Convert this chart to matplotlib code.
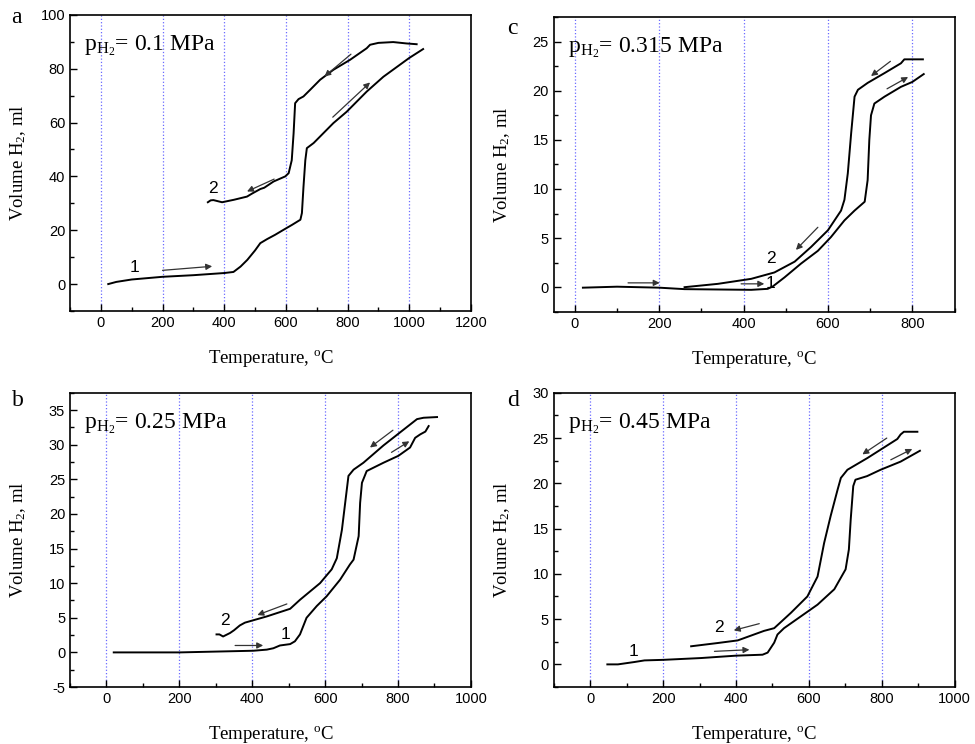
import matplotlib
matplotlib.use('Agg')
import matplotlib.pyplot as plt
from matplotlib.ticker import MultipleLocator

plt.rcParams['font.family'] = ['Liberation Sans', 'DejaVu Sans']
plt.rcParams['mathtext.fontset'] = 'custom'
plt.rcParams['mathtext.rm'] = 'Liberation Serif'
plt.rcParams['mathtext.it'] = 'Liberation Serif:italic'
plt.rcParams['axes.unicode_minus'] = False

# panel a, p = 0.1 MPa
a_heat_t = [24, 50, 100, 200, 300, 400, 430, 453, 475, 500, 517, 539, 565, 593, 620, 647, 652, 657, 663, 668, 690, 754, 797, 862, 916, 1000, 1045]
a_heat_v = [0, 0.8, 1.7, 2.7, 3.3, 4.1, 4.5, 6.5, 9.0, 12.5, 15.2, 16.7, 18.3, 20.2, 22.0, 23.9, 26.4, 36, 46, 50.5, 52.4, 59.8, 64, 71.5, 77, 84, 87.3]
a_cool_t = [1024, 990, 948, 900, 873, 862, 808, 754, 711, 679, 657, 641, 630, 625, 619, 609, 598, 560, 530, 517, 490, 474, 431, 393, 365, 356, 347]
a_cool_v = [89.1, 89.4, 89.9, 89.6, 88.9, 87.6, 83.3, 79.6, 75.9, 72.2, 69.7, 68.7, 67.2, 56, 46, 41.2, 40, 38.1, 35.8, 35.3, 33.6, 32.5, 31.3, 30.4, 31.2, 31.1, 30.4]

# panel b, p = 0.25 MPa
b_heat_t = [20, 201, 403, 440, 458, 476, 504, 517, 531, 549, 577, 604, 641, 668, 678, 692, 696, 701, 714, 760, 801, 833, 847, 861, 875, 884]
b_heat_v = [0, 0.0, 0.24, 0.4, 0.6, 1.0, 1.2, 1.6, 2.6, 5.0, 6.7, 8.1, 10.5, 12.7, 13.4, 16.8, 21.6, 24.5, 26.2, 27.4, 28.4, 29.6, 31.0, 31.5, 31.9, 32.7]
b_cool_t = [907, 870, 852, 806, 760, 705, 678, 664, 655, 646, 632, 618, 586, 531, 504, 440, 380, 366, 350, 339, 320, 310, 302]
b_cool_v = [34.0, 33.9, 33.7, 31.8, 29.9, 27.4, 26.4, 25.5, 21.6, 17.7, 13.6, 12.0, 10.0, 7.6, 6.3, 5.2, 4.3, 3.9, 3.2, 2.8, 2.3, 2.6, 2.6]

# panel c, p = 0.315 MPa
c_heat_t = [19, 100, 200, 260, 418, 457, 469, 497, 536, 576, 607, 639, 663, 687, 694, 698, 702, 710, 734, 773, 800, 827]
c_heat_v = [-0.05, 0.05, -0.05, -0.2, -0.27, -0.17, 0.07, 1.0, 2.4, 3.7, 5.1, 6.8, 7.8, 8.7, 10.9, 15, 17.5, 18.7, 19.4, 20.4, 20.9, 21.7]
c_cool_t = [825, 781, 773, 734, 694, 671, 663, 655, 647, 639, 631, 600, 560, 521, 473, 418, 339, 260]
c_cool_v = [23.2, 23.2, 22.8, 21.8, 20.8, 20.1, 19.4, 15.7, 11.6, 8.9, 7.8, 5.8, 4.1, 2.6, 1.5, 0.85, 0.34, 0.0]

# panel d, p = 0.45 MPa
d_heat_t = [47, 76, 121, 149, 200, 304, 399, 473, 487, 505, 514, 532, 578, 624, 670, 701, 710, 715, 722, 728, 760, 797, 852, 905]
d_heat_v = [0, 0, 0.26, 0.44, 0.5, 0.7, 0.96, 1.07, 1.3, 2.4, 3.3, 4.0, 5.3, 6.6, 8.3, 10.5, 12.7, 16, 19.7, 20.4, 20.8, 21.5, 22.4, 23.6]
d_cool_t = [898, 861, 852, 843, 761, 706, 688, 679, 660, 642, 624, 596, 551, 505, 477, 405, 350, 277]
d_cool_v = [25.7, 25.7, 25.4, 24.9, 22.8, 21.5, 20.6, 19.3, 16.4, 13.4, 9.7, 7.5, 5.7, 4.0, 3.7, 2.65, 2.36, 2.0]

# arrows: (t_from, v_from, t_to, v_to)
a_arrows = [(200, 5.1, 361, 6.6), (752, 62, 873, 74.9), (811, 85.4, 725, 77.1), (562, 39, 474, 34.4)]
b_arrows = [(353, 1.0, 430, 1.0), (782, 28.9, 831, 30.5), (786, 32.1, 723, 29.6), (495, 7.0, 414, 5.4)]
c_arrows = [(126, 0.44, 201, 0.44), (394, 0.34, 449, 0.34), (576, 6.1, 524, 3.8), (748, 23, 702, 21.5), (740, 20.2, 790, 21.4)]
d_arrows = [(341, 1.44, 437, 1.62), (825, 22.6, 884, 23.8), (814, 25.0, 747, 23.2), (464, 4.5, 394, 3.76)]

# curve number labels: (t, v, text)
a_nums = [(108, 6, '1'), (364, 35.4, '2')]
b_nums = [(490, 2.6, '1'), (325, 4.6, '2')]
c_nums = [(463, 0.4, '1'), (465, 2.9, '2')]
d_nums = [(119, 1.4, '1'), (354, 4.1, '2')]

fig = plt.figure(figsize=(9.75, 7.44), dpi=100)

panels = [
    ('a', [0.0718, 0.582, 0.4112, 0.398], (0.017, 0.976), a_heat_t, a_heat_v, a_cool_t, a_cool_v, a_arrows, a_nums,
     '0.1', (-100, 1200), (-10, 100), 20, 10, range(0, 1001, 200)),
    ('c', [0.568, 0.581, 0.411, 0.396], (0.525, 0.962), c_heat_t, c_heat_v, c_cool_t, c_cool_v, c_arrows, c_nums,
     '0.315', (-50, 900), (-2.5, 27.5), 5, 2.5, range(0, 801, 200)),
    ('b', [0.0718, 0.0766, 0.4112, 0.3954], (0.018, 0.462), b_heat_t, b_heat_v, b_cool_t, b_cool_v, b_arrows, b_nums,
     '0.25', (-100, 1000), (-5, 37.5), 5, 2.5, range(0, 801, 200)),
    ('d', [0.568, 0.0766, 0.411, 0.3954], (0.526, 0.462), d_heat_t, d_heat_v, d_cool_t, d_cool_v, d_arrows, d_nums,
     '0.45', (-100, 1000), (-2.5, 30), 5, 2.5, range(0, 801, 200)),
]

for (letter, rect, lpos, ht, hv, ct, cv, arrows, nums, press, xl, yl, ymaj, ymin, grid_x) in panels:
    ax = fig.add_axes(rect)
    for gx in grid_x:
        ax.axvline(gx, color='#6a6aff', ls=':', lw=0.9, zorder=0)
    ax.plot(ht, hv, color='black', lw=1.4)
    ax.plot(ct, cv, color='black', lw=1.4)
    for (x0, y0, x1, y1) in arrows:
        ax.annotate('', xy=(x1, y1), xytext=(x0, y0),
                    arrowprops=dict(arrowstyle='-|>', color='#333333', lw=0.9, mutation_scale=9,
                                    shrinkA=0, shrinkB=0))
    for (x, y, s) in nums:
        ax.text(x, y, s, fontsize=12.5, ha='center', va='center')
    ax.set_xlim(*xl)
    ax.set_ylim(*yl)
    ax.xaxis.set_major_locator(MultipleLocator(200))
    ax.xaxis.set_minor_locator(MultipleLocator(100))
    ax.yaxis.set_major_locator(MultipleLocator(ymaj))
    ax.yaxis.set_minor_locator(MultipleLocator(ymin))
    ax.tick_params(which='both', direction='in', top=False, right=False, labelsize=10.5)
    ax.tick_params(which='major', length=5, width=1)
    ax.tick_params(which='minor', length=3, width=1)
    for sp in ax.spines.values():
        sp.set_linewidth(1.2)
    ax.set_xlabel('Temperature, $^{\\mathregular{o}}$C', family='Liberation Serif', fontsize=13.5, labelpad=13)
    ax.set_ylabel('Volume H$_{\\mathregular{2}}$, ml', family='Liberation Serif', fontsize=13.5)
    ax.yaxis.set_label_coords(-0.105, 0.5)
    ax.text(0.035, 0.88, 'p$_{\\mathregular{H_2}}$= ' + press + ' MPa', transform=ax.transAxes,
            family='Liberation Serif', fontsize=17)
    fig.text(lpos[0], lpos[1], letter, family='Liberation Serif', fontsize=17, ha='center', va='center')

fig.savefig('out.png', dpi=100)
